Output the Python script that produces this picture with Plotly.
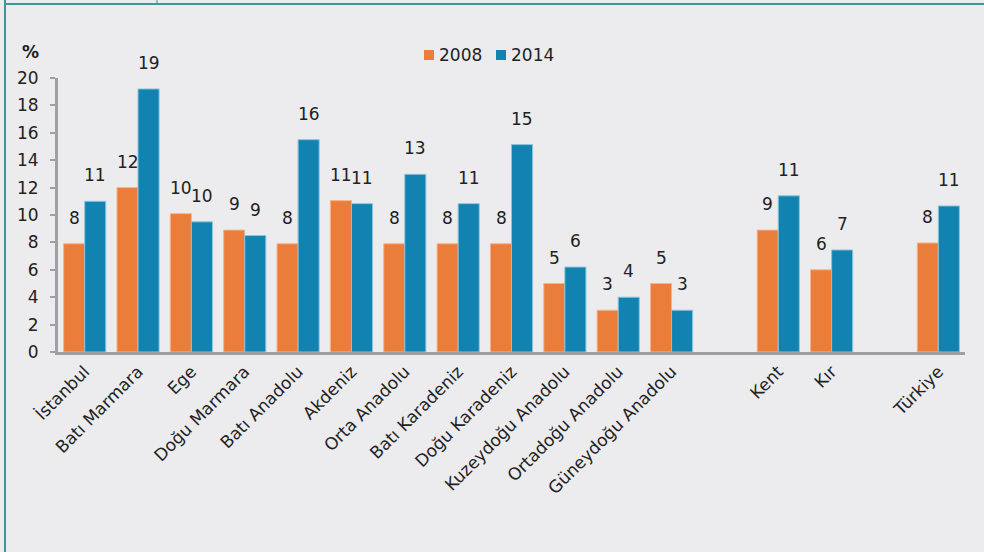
import math
import plotly.graph_objects as go

regions = ["İstanbul", "Batı Marmara", "Ege", "Doğu Marmara", "Batı Anadolu", "Akdeniz",
           "Orta Anadolu", "Batı Karadeniz", "Doğu Karadeniz", "Kuzeydoğu Anadolu",
           "Ortadoğu Anadolu", "Güneydoğu Anadolu"]
settlement = ["Kent", "Kır"]
country = ["Türkiye"]
series_names = ["2008", "2014"]

v2008_regions = [7.9, 12.0, 10.1, 8.9, 7.9, 11.05, 7.9, 7.9, 7.9, 5.0, 3.05, 5.0]
v2014_regions = [11.0, 19.2, 9.5, 8.5, 15.5, 10.83, 12.97, 10.83, 15.14, 6.2, 4.0, 3.05]
v2008_settlement = [8.9, 6.0]
v2014_settlement = [11.4, 7.45]
v2008_country = [7.96]
v2014_country = [10.66]

y_ticks = list(range(0, 21, 2))

ORANGE = "#EA7D39"
BLUE = "#1283B0"
BG = "#ECECEE"
AXIS = "#A0A0A2"
TEAL = "#3C9797"
FONT = "DejaVu Sans"
TXT = "#222"

cats = regions + settlement + country
y2008 = v2008_regions + v2008_settlement + v2008_country
y2014 = v2014_regions + v2014_settlement + v2014_country
order = regions + [" "] + settlement + ["  "] + country


def lbl(v):
    return str(int(math.floor(v + 0.5)))


ML, MR, MT, MB = 58, 19, 78, 200
W, H = 984, 552
pw, ph = W - ML - MR, H - MT - MB


def px(x):
    return (x - ML) / pw


def py(y):
    return (H - MB - y) / ph


fig = go.Figure()
fig.add_trace(go.Bar(x=cats, y=y2008, name=series_names[0], showlegend=False,
                     marker=dict(color=ORANGE, line=dict(color="#F4B58E", width=1))))
fig.add_trace(go.Bar(x=cats, y=y2014, name=series_names[1], showlegend=False,
                     marker=dict(color=BLUE, line=dict(color="#8CC4DC", width=1))))

LBL_FONT = dict(family=FONT, size=17, color=TXT)
ann = []
for c, a, b in zip(cats, y2008, y2014):
    ann.append(dict(x=c, y=a, text=lbl(a), showarrow=False, yanchor="bottom", xanchor="center",
                    xshift=-10.5, yshift=14, font=LBL_FONT))
    ann.append(dict(x=c, y=b, text=lbl(b), showarrow=False, yanchor="bottom", xanchor="center",
                    xshift=10.5, yshift=14, font=LBL_FONT))
ann.append(dict(x=px(30), y=py(52), xref="paper", yref="paper", text="<b>%</b>", showarrow=False,
                font=dict(family=FONT, size=17, color=TXT), xanchor="center", yanchor="middle"))

shapes = [
    dict(type="line", xref="paper", yref="paper", x0=px(5), x1=px(984), y0=py(4), y1=py(4),
         line=dict(color=TEAL, width=2)),
    dict(type="line", xref="paper", yref="paper", x0=px(5), x1=px(5), y0=py(0), y1=py(552),
         line=dict(color=TEAL, width=2)),
    dict(type="line", xref="paper", yref="paper", x0=px(157), x1=px(157), y0=py(0), y1=py(4),
         line=dict(color=TEAL, width=1)),
]

# manual legend
for name, col, x0 in zip(series_names, [ORANGE, BLUE], [424, 496]):
    shapes.append(dict(type="rect", xref="paper", yref="paper", x0=px(x0), x1=px(x0 + 10),
                       y0=py(60), y1=py(50), fillcolor=col, line=dict(width=0)))
    ann.append(dict(x=px(x0 + 13), y=py(55), xref="paper", yref="paper", text=name, showarrow=False,
                    xanchor="left", yanchor="middle", font=dict(family=FONT, size=17, color=TXT)))

fig.update_layout(
    width=W, height=H,
    margin=dict(l=ML, r=MR, t=MT, b=MB),
    paper_bgcolor=BG, plot_bgcolor=BG,
    barmode="group", bargap=0.21, bargroupgap=0,
    font=dict(family=FONT, size=17, color=TXT),
    showlegend=False,
    annotations=ann,
    shapes=shapes,
)
fig.update_xaxes(type="category", categoryorder="array", categoryarray=order,
                 tickangle=-45, showline=True, linecolor=AXIS, linewidth=3, ticks="",
                 showgrid=False, tickfont=dict(family=FONT, size=17, color=TXT))
fig.update_yaxes(range=[0, 20], tickvals=y_ticks, showline=True, linecolor=AXIS, linewidth=3,
                 ticks="outside", ticklen=5, tickcolor=AXIS, tickwidth=2, showgrid=False,
                 zeroline=False, ticklabelstandoff=8,
                 tickfont=dict(family=FONT, size=17, color=TXT))

fig.write_html("out.html", config={"displayModeBar": False},
               post_script="document.body.style.margin='0';document.body.style.background='%s';" % BG)
